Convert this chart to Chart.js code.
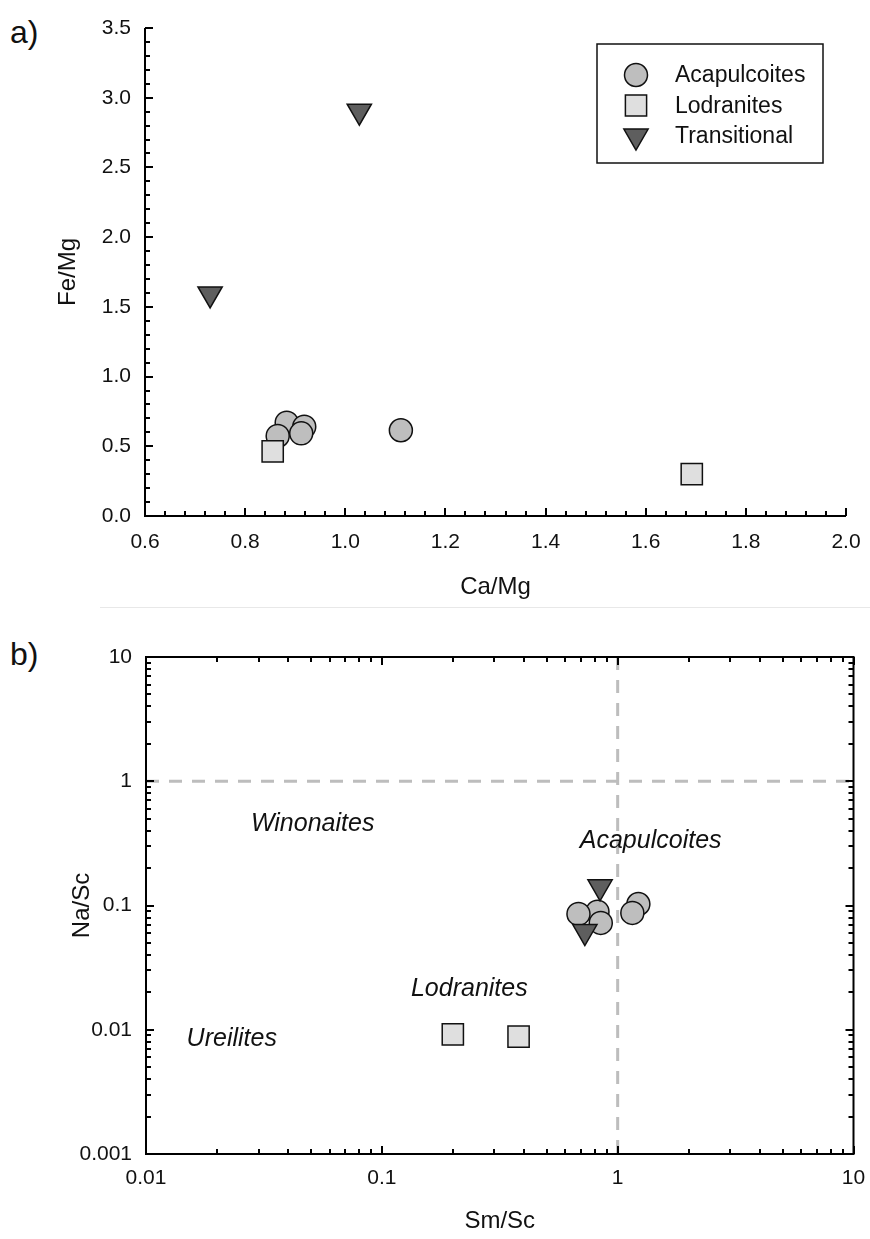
<!DOCTYPE html>
<html>
<head>
<meta charset="utf-8">
<script src="https://cdn.jsdelivr.net/npm/chart.js@4.4.0/dist/chart.umd.min.js"></script>
<style>
  body { margin: 0; background: #fff; }
  #wrap { position: relative; width: 870px; height: 1239px; font-family: "Liberation Sans", Arial, sans-serif; color: #111; }
  .panel { position: absolute; left: 0; width: 870px; }
  #boxA { top: 0; height: 610px; }
  #boxB { top: 610px; height: 629px; }
  .tag { position: absolute; left: 10px; font-size: 32px; line-height: 34px; }
  #sep { position: absolute; left: 100px; right: 0; top: 607px; height: 1px; background: #e8e8e8; }
</style>
</head>
<body>
<div id="wrap">
  <div class="tag" style="top:15px">a)</div>
  <div id="sep"></div>
  <div class="tag" style="top:637px">b)</div>
  <div class="panel" id="boxA"><canvas id="chartA" width="870" height="610"></canvas></div>
  <div class="panel" id="boxB"><canvas id="chartB" width="870" height="629"></canvas></div>
</div>
<script>
const FONT = '"Liberation Sans", Arial, sans-serif';

// a) Ca/Mg vs Fe/Mg
const acaCaMg = [0.883, 0.918, 0.912, 0.865, 1.111];
const acaFeMg = [0.669, 0.641, 0.593, 0.574, 0.615];
const lodCaMg = [0.855, 1.692];
const lodFeMg = [0.464, 0.300];
const traCaMg = [1.028, 0.730];
const traFeMg = [2.903, 1.593];

// b) Sm/Sc vs Na/Sc
const acaSmSc = [0.821, 0.682, 0.848, 1.224, 1.154];
const acaNaSc = [0.0892, 0.0855, 0.0724, 0.1028, 0.0871];
const lodSmSc = [0.200, 0.380];
const lodNaSc = [0.00917, 0.00879];
const traSmSc = [0.842, 0.726];
const traNaSc = [0.1415, 0.0617];

const groupNames = ['Acapulcoites', 'Lodranites', 'Transitional'];

const ticksAX = [0.6, 0.8, 1.0, 1.2, 1.4, 1.6, 1.8, 2.0];
const ticksAY = [0, 0.5, 1.0, 1.5, 2.0, 2.5, 3.0, 3.5];
const ticksBX = [0.01, 0.1, 1, 10];
const ticksBY = [0.001, 0.01, 0.1, 1, 10];

const fieldNames = ['Winonaites', 'Acapulcoites', 'Lodranites', 'Ureilites'];
const fieldX = [0.0509, 1.38, 0.235, 0.0231];
const fieldY = [0.45, 0.33, 0.0214, 0.00836];

function pts(xs, ys) {
  return xs.map((x, i) => ({ x: x, y: ys[i] }));
}

// marker looks shared by both panels
const looks = [
  { pointStyle: 'circle', pointRadius: 11.5, backgroundColor: '#bebebe', order: 3 },
  { pointStyle: 'rect', pointRadius: 15, backgroundColor: '#dfdfdf', order: 2 },
  { pointStyle: 'triangle', pointRadius: 14, rotation: 180, backgroundColor: '#5e5e5e', order: 1 }
];

function makeSets(series) {
  return series.map((data, i) => ({
    label: groupNames[i],
    data: data,
    pointStyle: looks[i].pointStyle,
    pointRadius: looks[i].pointRadius,
    pointHoverRadius: looks[i].pointRadius,
    rotation: looks[i].rotation || 0,
    backgroundColor: looks[i].backgroundColor,
    borderColor: '#111',
    borderWidth: 1.5,
    order: looks[i].order,
    clip: false
  }));
}

function linSteps(from, to, step) {
  const out = [];
  const n = Math.round((to - from) / step);
  for (let i = 0; i <= n; i++) out.push(from + i * step);
  return out;
}

function logSteps(lo, hi) {
  const out = [];
  for (let d = lo; d < hi * 0.99; d *= 10) {
    for (let k = 2; k <= 9; k++) out.push(d * k);
  }
  return out;
}

// axis lines with inward major/minor ticks
const axesFrame = {
  id: 'axesFrame',
  afterDatasetsDraw(chart, args, opts) {
    const { ctx } = chart;
    const { left, right, top, bottom } = chart.chartArea;
    const xs = chart.scales.x, ys = chart.scales.y;
    ctx.save();
    ctx.strokeStyle = '#000';
    ctx.lineWidth = 2;
    const tickX = (v, len) => {
      const p = Math.round(xs.getPixelForValue(v));
      ctx.moveTo(p, bottom); ctx.lineTo(p, bottom - len);
      if (opts.box) { ctx.moveTo(p, top); ctx.lineTo(p, top + len); }
    };
    const tickY = (v, len) => {
      const p = Math.round(ys.getPixelForValue(v));
      ctx.moveTo(left, p); ctx.lineTo(left + len, p);
      if (opts.box) { ctx.moveTo(right, p); ctx.lineTo(right - len, p); }
    };
    ctx.beginPath();
    opts.minorX.forEach(v => tickX(v, 5));
    opts.minorY.forEach(v => tickY(v, 5));
    xs.ticks.forEach(t => tickX(t.value, 8));
    ys.ticks.forEach(t => tickY(t.value, 8));
    ctx.stroke();

    ctx.lineWidth = 2;
    ctx.beginPath();
    if (opts.box) {
      ctx.rect(left, top, right - left, bottom - top);
    } else {
      ctx.moveTo(left, top);
      ctx.lineTo(left, bottom);
      ctx.lineTo(right, bottom);
    }
    ctx.stroke();
    ctx.restore();
  }
};

// boxed legend inside panel a
const boxLegend = {
  id: 'boxLegend',
  afterDraw(chart, args, opts) {
    const { ctx } = chart;
    ctx.save();
    ctx.strokeStyle = '#111';
    ctx.lineWidth = 1.5;
    ctx.strokeRect(opts.x, opts.y, opts.w, opts.h);
    ctx.font = '23px ' + FONT;
    ctx.textBaseline = 'middle';
    chart.data.datasets.forEach((ds, i) => {
      const cy = opts.y + opts.first + i * opts.step;
      ctx.fillStyle = ds.backgroundColor;
      ctx.strokeStyle = ds.borderColor;
      ctx.lineWidth = ds.borderWidth;
      Chart.helpers.drawPoint(ctx, {
        pointStyle: ds.pointStyle, rotation: ds.rotation,
        radius: ds.pointRadius, borderWidth: ds.borderWidth
      }, opts.x + opts.mark, cy);
      ctx.fillStyle = '#111';
      ctx.fillText(ds.label, opts.x + opts.text, cy + 1);
    });
    ctx.restore();
  }
};

// dashed unit lines and field names in panel b
const fields = {
  id: 'fields',
  beforeDatasetsDraw(chart) {
    const { ctx } = chart;
    const { left, right, top, bottom } = chart.chartArea;
    const px = chart.scales.x.getPixelForValue(1);
    const py = chart.scales.y.getPixelForValue(1);
    ctx.save();
    ctx.strokeStyle = '#bdbdbd';
    ctx.lineWidth = 3;
    ctx.setLineDash([13, 10]);
    ctx.beginPath();
    ctx.moveTo(px, top); ctx.lineTo(px, bottom);
    ctx.moveTo(left, py); ctx.lineTo(right, py);
    ctx.stroke();
    ctx.restore();
  },
  afterDatasetsDraw(chart) {
    const { ctx } = chart;
    ctx.save();
    ctx.font = 'italic 25px ' + FONT;
    ctx.fillStyle = '#111';
    ctx.textAlign = 'center';
    ctx.textBaseline = 'middle';
    fieldNames.forEach((name, i) => {
      ctx.fillText(name, chart.scales.x.getPixelForValue(fieldX[i]),
        chart.scales.y.getPixelForValue(fieldY[i]));
    });
    ctx.restore();
  }
};

function axis(opts) {
  return Object.assign({
    grid: { display: false, drawTicks: false },
    border: { display: false },
    ticks: {
      autoSkip: false, maxRotation: 0, color: '#111',
      font: { family: FONT, size: 21 },
      padding: opts.pad,
      callback: opts.fmt
    },
    title: {
      display: true, text: opts.title, color: '#111',
      font: { family: FONT, size: 24 },
      padding: opts.titlePad
    },
    afterBuildTicks: s => { s.ticks = opts.values.map(v => ({ value: v })); },
    afterFit: s => {
      // plot box is set by layout padding alone, not by label overhang
      s.paddingLeft = s.paddingRight = s.paddingTop = s.paddingBottom = 0;
      if (opts.width) s.width = opts.width;
      if (opts.height) s.height = opts.height;
    }
  }, opts.base);
}

new Chart(document.getElementById('chartA'), {
  type: 'scatter',
  data: {
    datasets: makeSets([pts(acaCaMg, acaFeMg), pts(lodCaMg, lodFeMg), pts(traCaMg, traFeMg)])
  },
  options: {
    responsive: false,
    animation: false,
    devicePixelRatio: 1,
    layout: { padding: { top: 28, right: 24, left: 0, bottom: 0 } },
    plugins: {
      legend: { display: false },
      tooltip: { enabled: false },
      axesFrame: { box: false, minorX: linSteps(0.6, 2.0, 0.04), minorY: linSteps(0, 3.5, 0.1) },
      boxLegend: { x: 597, y: 44, w: 226, h: 119, first: 31, step: 30.5, mark: 39, text: 78 }
    },
    scales: {
      x: axis({
        base: { type: 'linear', min: 0.6, max: 2.0 },
        values: ticksAX, fmt: v => v.toFixed(1), pad: 14,
        title: 'Ca/Mg', titlePad: { top: 0, bottom: 8 }, height: 94
      }),
      y: axis({
        base: { type: 'linear', min: 0, max: 3.5 },
        values: ticksAY, fmt: v => v.toFixed(1), pad: 14,
        title: 'Fe/Mg', titlePad: { top: 54, bottom: 0 }, width: 145
      })
    }
  },
  plugins: [axesFrame, boxLegend]
});

new Chart(document.getElementById('chartB'), {
  type: 'scatter',
  data: {
    datasets: makeSets([pts(acaSmSc, acaNaSc), pts(lodSmSc, lodNaSc), pts(traSmSc, traNaSc)])
  },
  options: {
    responsive: false,
    animation: false,
    devicePixelRatio: 1,
    layout: { padding: { top: 47, right: 15, left: 0, bottom: 0 } },
    plugins: {
      legend: { display: false },
      tooltip: { enabled: false },
      axesFrame: { box: true, minorX: logSteps(0.01, 10), minorY: logSteps(0.001, 10) }
    },
    scales: {
      x: axis({
        base: { type: 'logarithmic', min: 0.01, max: 10 },
        values: ticksBX, fmt: v => String(v), pad: 12,
        title: 'Sm/Sc', titlePad: { top: 0, bottom: 3 }, height: 85
      }),
      y: axis({
        base: { type: 'logarithmic', min: 0.001, max: 10 },
        values: ticksBY, fmt: v => String(v), pad: 14,
        title: 'Na/Sc', titlePad: { top: 68, bottom: 0 }, width: 146
      })
    }
  },
  plugins: [axesFrame, fields]
});
</script>
</body>
</html>
